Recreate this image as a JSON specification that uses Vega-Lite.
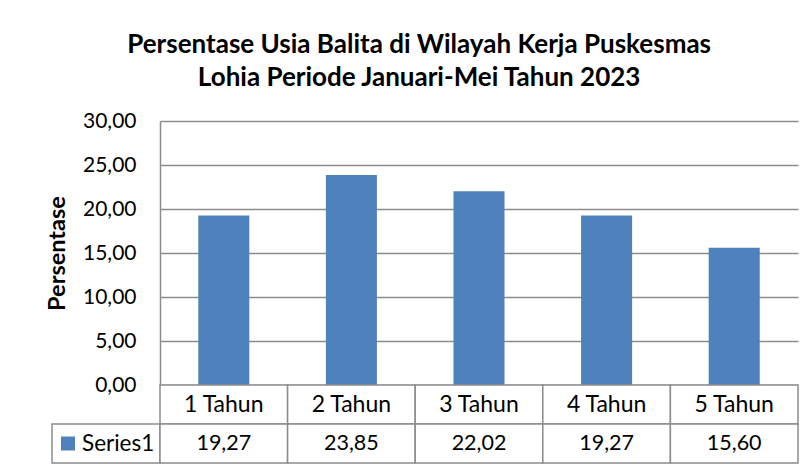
{
  "$schema": "https://vega.github.io/schema/vega-lite/v6.json",
  "datasets": {
    "balita": [
      {"kategori": "1 Tahun", "persen": 19.27},
      {"kategori": "2 Tahun", "persen": 23.85},
      {"kategori": "3 Tahun", "persen": 22.02},
      {"kategori": "4 Tahun", "persen": 19.27},
      {"kategori": "5 Tahun", "persen": 15.60}
    ],
    "seri": [{"seri": "Series1"}]
  },
  "background": "white",
  "padding": {"left": 45, "top": 32, "right": 13, "bottom": 8},
  "title": {
    "text": ["Persentase Usia Balita di Wilayah Kerja Puskesmas", "Lohia Periode Januari-Mei Tahun 2023"],
    "font": "Lato",
    "fontSize": 26,
    "fontWeight": "bold",
    "color": "black",
    "lineHeight": 33,
    "anchor": "middle",
    "dx": -3,
    "offset": 19
  },
  "columns": 2,
  "spacing": 0,
  "bounds": "flush",
  "concat": [
    {
      "width": 108,
      "height": 264,
      "data": {"values": []},
      "mark": "rule",
      "encoding": {}
    },
    {
      "width": 638,
      "height": 264,
      "data": {"name": "balita"},
      "mark": {"type": "bar", "color": "#4F81BD", "width": {"band": 0.4}},
      "encoding": {
        "x": {"field": "kategori", "type": "nominal", "sort": null, "scale": {"paddingInner": 0, "paddingOuter": 0}, "axis": null},
        "y": {
          "field": "persen",
          "type": "quantitative",
          "scale": {"domain": [0, 30], "nice": false},
          "axis": {
            "values": [0, 5, 10, 15, 20, 25, 30],
            "format": ".2f",
            "ticks": false,
            "labelPadding": 24,
            "labelFont": "Lato",
            "labelFontSize": 21,
            "labelColor": "black",
            "title": "Persentase",
            "titleFont": "Lato",
            "titleFontSize": 23.5,
            "titleFontWeight": "bold",
            "titleColor": "black",
            "titlePadding": 13,
            "domainColor": "#8c8c8c",
            "domainWidth": 1.5,
            "gridColor": "#8c8c8c",
            "gridWidth": 1.3
          }
        }
      }
    },
    {
      "width": 108,
      "height": 78,
      "data": {"name": "seri"},
      "encoding": {
        "x": {"field": "seri", "type": "nominal", "scale": {"paddingInner": 0, "paddingOuter": 0}, "axis": null},
        "y": {"datum": "2", "type": "nominal", "scale": {"domain": ["1", "2"], "paddingInner": 0, "paddingOuter": 0}, "axis": null}
      },
      "layer": [
        {"mark": {"type": "rect", "fill": "white", "stroke": "#8c8c8c", "strokeWidth": 1.5}},
        {"mark": {"type": "square", "size": 196, "color": "#4F81BD", "opacity": 1, "filled": true, "xOffset": -38}},
        {"mark": {"type": "text", "font": "Lato", "fontSize": 22.5, "color": "black", "align": "left", "xOffset": -24}, "encoding": {"text": {"field": "seri"}}}
      ]
    },
    {
      "width": 638,
      "height": 78,
      "data": {"name": "balita"},
      "encoding": {
        "x": {"field": "kategori", "type": "nominal", "sort": null, "scale": {"paddingInner": 0, "paddingOuter": 0}, "axis": null}
      },
      "layer": [
        {"mark": {"type": "rect", "fill": "white", "stroke": "#8c8c8c", "strokeWidth": 1.5}, "encoding": {"y": {"datum": "1", "type": "nominal", "scale": {"domain": ["1", "2"], "paddingInner": 0, "paddingOuter": 0}, "axis": null}}},
        {"mark": {"type": "rect", "fill": "white", "stroke": "#8c8c8c", "strokeWidth": 1.5}, "encoding": {"y": {"datum": "2", "type": "nominal"}}},
        {"mark": {"type": "text", "font": "Lato", "fontSize": 23, "color": "black"}, "encoding": {"y": {"datum": "1", "type": "nominal"}, "text": {"field": "kategori"}}},
        {"mark": {"type": "text", "font": "Lato", "fontSize": 21.5, "color": "black"}, "encoding": {"y": {"datum": "2", "type": "nominal"}, "text": {"field": "persen", "type": "quantitative", "format": ".2f"}}}
      ]
    }
  ],
  "config": {
    "view": {"stroke": null},
    "font": "Lato",
    "locale": {
      "number": {"decimal": ",", "thousands": ".", "grouping": [3], "currency": ["", ""]}
    }
  }
}
